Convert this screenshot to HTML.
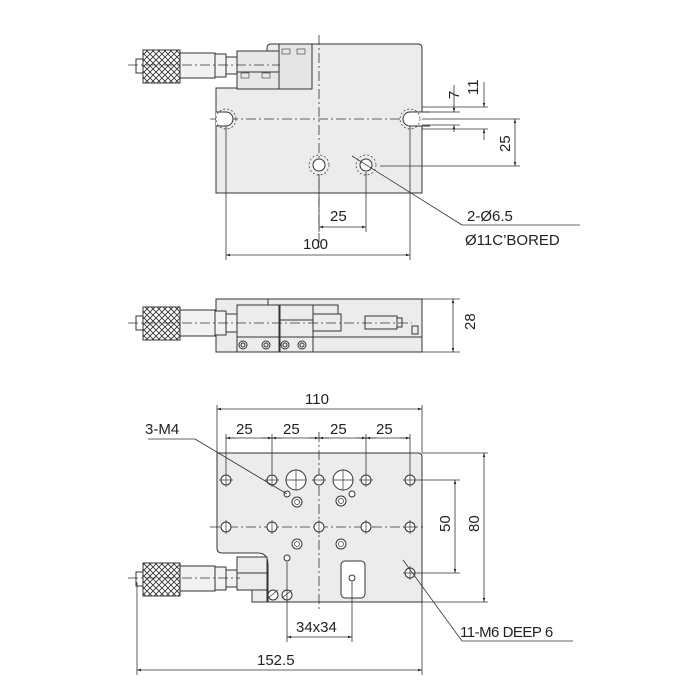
<!DOCTYPE html>
<html><head><style>
html,body{margin:0;padding:0;background:#fff;}
svg{display:block;}
text{font-family:"Liberation Sans",sans-serif;fill:#222;}
</style></head><body>
<svg width="700" height="700" viewBox="0 0 700 700" xmlns="http://www.w3.org/2000/svg">
<defs>
<pattern id="kn" width="6" height="6" patternUnits="userSpaceOnUse">
<rect width="6" height="6" fill="#fff"/>
<path d="M0 0L6 6M6 0L0 6" stroke="#333" stroke-width="0.9"/>
</pattern>
<marker id="a" viewBox="0 0 10 10" refX="10" refY="5" markerWidth="7" markerHeight="5" orient="auto-start-reverse"><path d="M0 2L10 5L0 8z" fill="#222"/></marker>
</defs>
<g stroke="#333" stroke-width="1" fill="none">

<!-- ========== TOP VIEW ========== -->
<path d="M216 88 H267 V48 Q267 44 271 44 H418 Q422 44 422 48 V193 H216 Z" fill="#ececec"/>
<rect x="279" y="44" width="33" height="45" fill="#e6e6e6"/>
<rect x="237" y="51" width="42" height="38" fill="#e8e8e8"/>
<line x1="237" y1="72" x2="279" y2="72"/>
<rect x="180" y="53" width="35" height="25" fill="#f2f2f2"/>
<rect x="215" y="54" width="11" height="23" fill="#f2f2f2"/>
<rect x="226" y="57" width="11" height="17" fill="#f2f2f2"/>
<rect x="143" y="50" width="37" height="33" fill="url(#kn)"/>
<rect x="136" y="59" width="7" height="14" fill="#fff"/>
<g stroke-width="0.6"><rect x="282" y="49" width="8" height="5"/><rect x="297" y="49" width="8" height="5"/><rect x="241" y="73" width="8" height="5"/><rect x="262" y="73" width="8" height="5"/></g>
<g stroke-dasharray="10,3,2,3" stroke-width="0.8">
<line x1="128" y1="65" x2="280" y2="65"/>
<line x1="319" y1="35" x2="319" y2="250"/>
<line x1="210" y1="119" x2="425" y2="119"/>
</g>
<!-- slots -->
<path d="M216 112 H226 A7 7 0 0 1 226 126 H216" fill="#fff"/>
<path d="M430 112 H410 A7 7 0 0 0 410 126 H430" fill="#fff"/>
<g stroke-dasharray="2,2" stroke-width="0.7"><circle cx="226" cy="119" r="10"/><circle cx="410" cy="119" r="10"/><circle cx="319" cy="165" r="10"/><circle cx="366" cy="165" r="10"/></g>
<circle cx="319" cy="165" r="6" fill="#fff"/><circle cx="366" cy="165" r="6" fill="#fff"/>
<!-- slot extension & dims -->
<g stroke-width="0.8">
<line x1="422" y1="107" x2="488" y2="107"/><line x1="422" y1="112" x2="460" y2="112"/>
<line x1="422" y1="125" x2="460" y2="125"/><line x1="422" y1="129" x2="488" y2="129"/>
<line x1="422" y1="119" x2="520" y2="119"/><line x1="380" y1="166" x2="520" y2="166"/>
<line x1="454" y1="85" x2="454" y2="112" marker-end="url(#a)"/><line x1="454" y1="132" x2="454" y2="125" marker-end="url(#a)"/>
<line x1="484" y1="82" x2="484" y2="107" marker-end="url(#a)"/><line x1="484" y1="140" x2="484" y2="129" marker-end="url(#a)"/>
<line x1="515" y1="119" x2="515" y2="166" marker-start="url(#a)" marker-end="url(#a)"/>
<line x1="319" y1="175" x2="319" y2="232"/><line x1="366" y1="172" x2="366" y2="232"/>
<line x1="319" y1="227" x2="366" y2="227" marker-start="url(#a)" marker-end="url(#a)"/>
<line x1="226" y1="126" x2="226" y2="260"/><line x1="410" y1="126" x2="410" y2="260"/>
<line x1="226" y1="255" x2="410" y2="255" marker-start="url(#a)" marker-end="url(#a)"/>
<line x1="352" y1="156" x2="462" y2="225"/><line x1="462" y1="225" x2="580" y2="225"/>
</g>

<!-- ========== SIDE VIEW ========== -->
<rect x="216" y="299" width="206" height="53" fill="#ececec"/>
<line x1="268" y1="299" x2="268" y2="305"/>
<path d="M237 305 H338 V314"/>
<rect x="237" y="305" width="42" height="47" fill="#ececec"/>
<rect x="280" y="305" width="33" height="47" fill="#ececec"/>
<line x1="237" y1="337" x2="313" y2="337"/><line x1="280" y1="320" x2="313" y2="320"/>
<line x1="313" y1="337" x2="422" y2="337"/>
<rect x="313" y="314" width="28" height="17" fill="#ececec"/>
<rect x="365" y="316" width="32" height="13" fill="#ececec"/>
<rect x="397" y="318" width="5" height="9" fill="#ececec"/>
<rect x="412" y="326" width="6" height="8" fill="#ececec"/>
<rect x="180" y="310" width="35" height="26" fill="#f2f2f2"/>
<rect x="215" y="311" width="11" height="24" fill="#f2f2f2"/>
<rect x="226" y="314" width="11" height="18" fill="#f2f2f2"/>
<rect x="143" y="307" width="37" height="33" fill="url(#kn)"/>
<rect x="136" y="316" width="7" height="14" fill="#fff"/>
<g><circle cx="243" cy="345" r="4"/><circle cx="266" cy="345" r="4"/><circle cx="285" cy="345" r="4"/><circle cx="302" cy="345" r="4"/>
<circle cx="243" cy="345" r="2"/><circle cx="266" cy="345" r="2"/><circle cx="285" cy="345" r="2"/><circle cx="302" cy="345" r="2"/></g>
<line x1="128" y1="323" x2="412" y2="323" stroke-dasharray="10,3,2,3" stroke-width="0.8"/>
<g stroke-width="0.8"><line x1="422" y1="299" x2="460" y2="299"/><line x1="422" y1="352" x2="460" y2="352"/>
<line x1="453" y1="299" x2="453" y2="352" marker-start="url(#a)" marker-end="url(#a)"/></g>

<!-- ========== BOTTOM VIEW ========== -->
<path d="M217 453 H418 Q422 453 422 457 V602 H268 V565 Q268 553 258 553 H222 Q217 553 217 548 Z" fill="#ececec"/>
<rect x="237" y="557" width="30" height="33" fill="#ececec"/>
<line x1="237" y1="573" x2="267" y2="573"/>
<rect x="252" y="590" width="15" height="12" fill="#ececec"/>
<rect x="180" y="566" width="35" height="25" fill="#f2f2f2"/>
<rect x="215" y="567" width="11" height="23" fill="#f2f2f2"/>
<rect x="226" y="570" width="11" height="17" fill="#f2f2f2"/>
<rect x="143" y="563" width="37" height="33" fill="url(#kn)"/>
<rect x="136" y="572" width="7" height="14" fill="#fff"/>
<g stroke-dasharray="10,3,2,3" stroke-width="0.8">
<line x1="128" y1="578" x2="240" y2="578"/>
<line x1="210" y1="527" x2="425" y2="527"/>
<line x1="319" y1="432" x2="319" y2="610"/>
</g>
<g fill="#fff">
<circle cx="226" cy="480" r="5"/><circle cx="272" cy="480" r="5"/><circle cx="319" cy="480" r="5"/><circle cx="366" cy="480" r="5"/><circle cx="410" cy="480" r="5"/>
<circle cx="226" cy="527" r="5"/><circle cx="272" cy="527" r="5"/><circle cx="319" cy="527" r="5"/><circle cx="366" cy="527" r="5"/><circle cx="410" cy="527" r="5"/>
<circle cx="410" cy="573" r="5"/>
<circle cx="296" cy="480" r="10"/><circle cx="343" cy="480" r="10"/>
<circle cx="297" cy="502" r="5"/><circle cx="341" cy="501" r="5"/><circle cx="297" cy="544" r="5"/><circle cx="341" cy="544" r="5"/>
<circle cx="287" cy="494" r="3"/><circle cx="352" cy="494" r="3"/><circle cx="287" cy="558" r="3"/>
<circle cx="273" cy="595" r="5"/><circle cx="287" cy="595" r="5"/>
<rect x="341" y="561" width="24" height="37" rx="4"/>
<circle cx="352" cy="578" r="3"/>
</g>
<g stroke-width="0.7">
<circle cx="297" cy="502" r="2.5"/><circle cx="341" cy="501" r="2.5"/><circle cx="297" cy="544" r="2.5"/><circle cx="341" cy="544" r="2.5"/>
<path d="M219 480h14M226 473v14M265 480h14M272 473v14M312 480h14M359 480h14M366 473v14M403 480h14M410 473v14M403 527h14M410 520v14M403 573h14M410 566v14M226 520v14M272 520v14M319 520v14M366 520v14M296 470v20M286 480h20M343 470v20M333 480h20"/>
<path d="M268 598l10-8M282 598l10-8"/>
</g>
<g stroke-width="0.8">
<line x1="217" y1="405" x2="217" y2="453"/><line x1="422" y1="405" x2="422" y2="453"/>
<line x1="217" y1="409" x2="422" y2="409" marker-start="url(#a)" marker-end="url(#a)"/>
<line x1="226" y1="434" x2="226" y2="473"/><line x1="272" y1="434" x2="272" y2="473"/><line x1="366" y1="434" x2="366" y2="473"/><line x1="410" y1="434" x2="410" y2="473"/>
<line x1="226" y1="438" x2="410" y2="438"/>
<line x1="226" y1="438" x2="236" y2="438" marker-start="url(#a)"/><line x1="262" y1="438" x2="272" y2="438" marker-end="url(#a)"/>
<line x1="272" y1="438" x2="282" y2="438" marker-start="url(#a)"/><line x1="309" y1="438" x2="319" y2="438" marker-end="url(#a)"/>
<line x1="319" y1="438" x2="329" y2="438" marker-start="url(#a)"/><line x1="356" y1="438" x2="366" y2="438" marker-end="url(#a)"/>
<line x1="366" y1="438" x2="376" y2="438" marker-start="url(#a)"/><line x1="400" y1="438" x2="410" y2="438" marker-end="url(#a)"/>
<line x1="148" y1="439" x2="195" y2="439"/><line x1="195" y1="439" x2="287" y2="494"/>
<line x1="417" y1="480" x2="460" y2="480"/><line x1="417" y1="573" x2="460" y2="573"/>
<line x1="422" y1="453" x2="488" y2="453"/><line x1="422" y1="602" x2="488" y2="602"/>
<line x1="455" y1="480" x2="455" y2="573" marker-start="url(#a)" marker-end="url(#a)"/>
<line x1="484" y1="453" x2="484" y2="602" marker-start="url(#a)" marker-end="url(#a)"/>
<line x1="287" y1="562" x2="287" y2="642"/><line x1="352" y1="582" x2="352" y2="642"/>
<line x1="287" y1="637" x2="352" y2="637" marker-start="url(#a)" marker-end="url(#a)"/>
<line x1="137" y1="582" x2="137" y2="675"/><line x1="422" y1="602" x2="422" y2="675"/>
<line x1="137" y1="670" x2="422" y2="670" marker-start="url(#a)" marker-end="url(#a)"/>
<line x1="403" y1="560" x2="462" y2="641"/><line x1="462" y1="641" x2="573" y2="641"/>
</g>
</g>

<!-- text -->
<g font-size="15">
<text x="330" y="221">25</text>
<text x="303" y="249">100</text>
<text x="459" y="95" transform="rotate(-90 459 95)" text-anchor="middle" dy="0">7</text>
<text x="478" y="95" transform="rotate(-90 478 95)">11</text>
<text x="510" y="152" transform="rotate(-90 510 152)">25</text>
<text x="467" y="221">2-Ø6.5</text>
<text x="465" y="245">Ø11C’BORED</text>
<text x="475" y="330" transform="rotate(-90 475 330)">28</text>
<text x="305" y="404">110</text>
<text x="236" y="434">25</text>
<text x="283" y="434">25</text>
<text x="330" y="434">25</text>
<text x="376" y="434">25</text>
<text x="145" y="434">3-M4</text>
<text x="450" y="532" transform="rotate(-90 450 532)">50</text>
<text x="479" y="532" transform="rotate(-90 479 532)">80</text>
<text x="296" y="632">34x34</text>
<text x="257" y="665">152.5</text>
<text x="460" y="637" letter-spacing="-0.5">11-M6 DEEP 6</text>
</g>
</svg>
</body></html>
